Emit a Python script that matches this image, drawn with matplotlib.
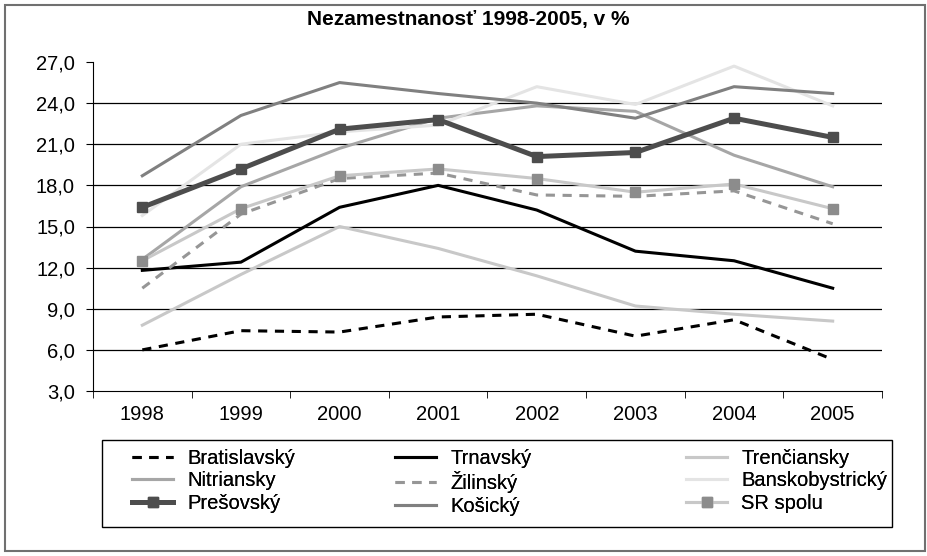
import matplotlib.pyplot as plt
from matplotlib.patches import Rectangle
import numpy as np

plt.rcParams['font.family'] = ['Liberation Sans', 'DejaVu Sans']

years = ['1998', '1999', '2000', '2001', '2002', '2003', '2004', '2005']

bratislavsky = [6.0, 7.4, 7.3, 8.4, 8.6, 7.0, 8.2, 5.3]
trnavsky = [11.8, 12.4, 16.4, 18.0, 16.2, 13.2, 12.5, 10.5]
trenciansky = [7.8, 11.5, 15.0, 13.4, 11.4, 9.2, 8.6, 8.1]
nitriansky = [12.6, 17.9, 20.7, 22.9, 23.8, 23.4, 20.2, 17.9]
zilinsky = [10.5, 15.9, 18.5, 18.9, 17.3, 17.2, 17.6, 15.2]
banskobystricky = [15.8, 21.0, 21.9, 22.4, 25.2, 23.9, 26.7, 23.8]
presovsky = [16.4, 19.2, 22.1, 22.8, 20.1, 20.4, 22.9, 21.5]
kosicky = [18.7, 23.1, 25.5, 24.7, 24.0, 22.9, 25.2, 24.7]
sr_spolu = [12.5, 16.3, 18.7, 19.2, 18.5, 17.5, 18.1, 16.3]

x = np.arange(len(years))
W, H = 928, 556
fs = 14.5

fig = plt.figure(figsize=(9.28, 5.56), dpi=100)
ax = fig.add_axes([93 / W, 1 - 391 / H, 789 / W, 329 / H])

# horizontal grid first so the lines sit above it
for v in np.arange(6, 27, 3):
    ax.axhline(v, color='black', lw=0.9, zorder=0)

h = {}
h['Bratislavský'], = ax.plot(x, bratislavsky, color='black', lw=2.2, ls=(0, (3, 2.5)), label='Bratislavský')
h['Trnavský'], = ax.plot(x, trnavsky, color='black', lw=2.2, label='Trnavský')
h['Trenčiansky'], = ax.plot(x, trenciansky, color='#c8c8c8', lw=2.2, label='Trenčiansky')
h['Nitriansky'], = ax.plot(x, nitriansky, color='#a6a6a6', lw=2.2, label='Nitriansky')
h['Žilinský'], = ax.plot(x, zilinsky, color='#969696', lw=2.2, ls=(0, (3, 2.5)), label='Žilinský')
h['Banskobystrický'], = ax.plot(x, banskobystricky, color='#e4e4e4', lw=2.2, label='Banskobystrický')
h['Prešovský'], = ax.plot(x, presovsky, color='#4d4d4d', lw=3.6, marker='s', ms=6.5, label='Prešovský')
h['Košický'], = ax.plot(x, kosicky, color='#808080', lw=2.2, label='Košický')
h['SR spolu'], = ax.plot(x, sr_spolu, color='#c8c8c8', lw=2.2, marker='s', ms=6.5,
                         mfc='#8c8c8c', mec='#8c8c8c', label='SR spolu')

ax.set_xlim(-0.5, 7.5)
ax.set_ylim(3, 27)
yt = np.arange(3, 28, 3)
ax.set_yticks(yt)
ax.set_yticklabels([('%.1f' % v).replace('.', ',') for v in yt])
ax.set_xticks(x)
ax.set_xticklabels(years)
ax.set_xticks(np.arange(-0.5, 8, 1), minor=True)
ax.tick_params(axis='x', which='major', length=0, pad=10, labelsize=fs)
ax.tick_params(axis='x', which='minor', length=5, direction='out')
ax.tick_params(axis='y', length=5, direction='out', labelsize=fs, pad=8)
for s in ['top', 'right']:
    ax.spines[s].set_visible(False)

fig.text(468 / W, 1 - 20 / H, 'Nezamestnanosť 1998-2005, v %', ha='center', va='center',
         fontsize=15, fontweight='bold')

# legend: three columns placed like the original, one frame round them
columns = [['Bratislavský', 'Nitriansky', 'Prešovský'],
           ['Trnavský', 'Žilinský', 'Košický'],
           ['Trenčiansky', 'Banskobystrický', 'SR spolu']]
col_x = [132, 395, 686]
for names, cx in zip(columns, col_x):
    lg = fig.legend([h[n] for n in names], names, loc='upper left',
                    bbox_to_anchor=(cx / W, 1 - 449 / H), frameon=False,
                    fontsize=fs, handlelength=2.05, handletextpad=0.7,
                    labelspacing=0.17, borderpad=0, borderaxespad=0,
                    numpoints=1)
    fig.add_artist(lg)

fig.patches.append(Rectangle((102 / W, 1 - 527 / H), 790 / W, 87 / H,
                             transform=fig.transFigure, fill=False,
                             edgecolor='black', lw=1.0))
fig.patches.append(Rectangle((5 / W, 5 / H), 920 / W, 546 / H,
                             transform=fig.transFigure, fill=False,
                             edgecolor='#707070', lw=1.5))

plt.savefig('out.png', dpi=100)
